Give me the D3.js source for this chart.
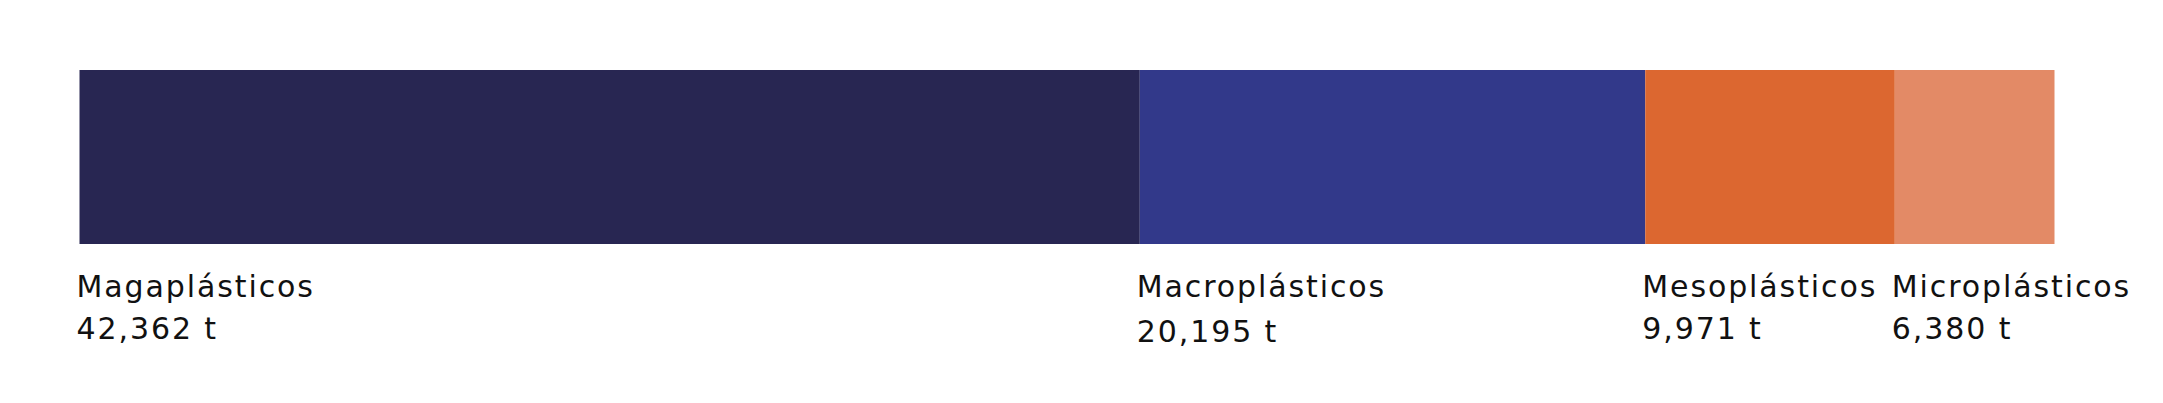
<!DOCTYPE html>
<html>
<head>
<meta charset="utf-8">
<script src="https://cdn.jsdelivr.net/npm/d3@7"></script>
<style>
  html, body { margin: 0; padding: 0; background: #ffffff; }
  svg { display: block; }
  text { font-family: "DejaVu Sans", sans-serif; fill: #111111; }
</style>
</head>
<body>
<script>
const categories = ["Magaplásticos", "Macroplásticos", "Mesoplásticos", "Microplásticos"];
const values = [42362, 20195, 9971, 6380];
const valueLabels = ["42,362 t", "20,195 t", "9,971 t", "6,380 t"];
const colors = ["#282652", "#32398a", "#dc6730", "#e38a66"];

const W = 2163, H = 403;
const svg = d3.select("body").append("svg").attr("width", W).attr("height", H);

const total = d3.sum(values);
const starts = [];
values.reduce((acc, v, i) => { starts[i] = acc; return acc + v; }, 0);

const x = d3.scaleLinear().domain([0, total]).range([79.5, 2054.5]);
const barTop = 70, barBottom = 244;

const data = categories.map((c, i) => ({ c, v: values[i], s: starts[i], lab: valueLabels[i], col: colors[i] }));

svg.selectAll("rect.seg").data(data).enter().append("rect")
  .attr("class", "seg")
  .attr("x", d => x(d.s))
  .attr("y", barTop)
  .attr("width", d => x(d.s + d.v) - x(d.s))
  .attr("height", barBottom - barTop)
  .attr("fill", d => d.col);

const fs = 30;
const g = svg.selectAll("g.lab").data(data).enter().append("g").attr("class", "lab");
g.append("text")
  .attr("x", d => x(d.s) - 3)
  .attr("y", 297)
  .attr("font-size", fs)
  .attr("letter-spacing", 1.9)
  .text(d => d.c);
g.append("text")
  .attr("x", d => x(d.s) - 3)
  .attr("y", (d, i) => i === 1 ? 342 : 339)
  .attr("font-size", fs)
  .attr("letter-spacing", 1.9)
  .text(d => d.lab);
</script>
</body>
</html>
